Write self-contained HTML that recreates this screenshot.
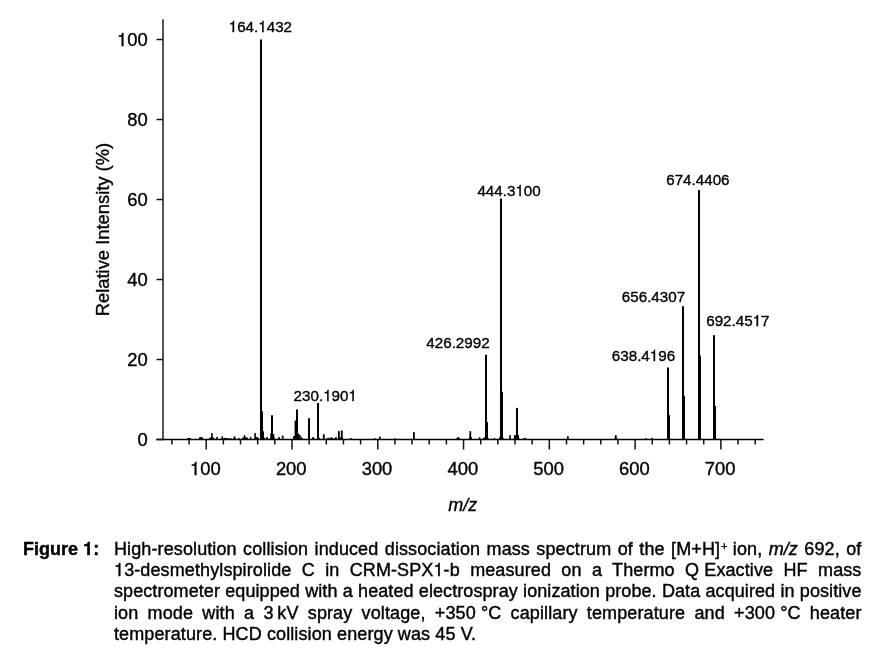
<!DOCTYPE html>
<html><head><meta charset="utf-8"><style>
html,body{margin:0;padding:0;background:#fff;}
body{width:889px;height:657px;position:relative;overflow:hidden;filter:grayscale(1);-webkit-text-stroke:0.4px #000;font-family:"Liberation Sans",Arial,sans-serif;color:#000;}
.fig{position:absolute;left:23.1px;top:538.8px;font-weight:bold;font-size:18px;line-height:21.3px;}
.cap{position:absolute;left:114px;top:538.8px;width:747.5px;font-size:18px;line-height:21.3px;letter-spacing:0.11px;}
.cap div{text-align:justify;text-align-last:justify;white-space:nowrap;}
.nb{display:inline-block;}
.one{font-family:"TeX Gyre Heros","FreeSans","Liberation Sans",Arial,sans-serif;}
span.one{line-height:0;}
.cap div.last{text-align:left;text-align-last:left;word-spacing:0px;}
</style></head><body>
<svg width="889" height="530" viewBox="0 0 889 530" style="position:absolute;left:0;top:0">
<g fill="#000" shape-rendering="auto"><rect x="187.20" y="438.10" width="3.60" height="1.40"/><rect x="199.30" y="437.20" width="3.40" height="2.30"/><rect x="211.10" y="433.10" width="1.60" height="6.40"/><rect x="216.25" y="436.90" width="1.50" height="2.60"/><rect x="221.55" y="436.30" width="1.50" height="3.20"/><rect x="223.50" y="438.00" width="4.00" height="1.50"/><rect x="233.70" y="436.30" width="1.60" height="3.20"/><rect x="238.05" y="438.00" width="1.50" height="1.50"/><rect x="243.70" y="435.10" width="1.60" height="4.40"/><rect x="245.50" y="437.50" width="2.00" height="2.00"/><rect x="249.85" y="436.90" width="1.50" height="2.60"/><rect x="254.30" y="433.10" width="1.60" height="6.40"/><rect x="256.65" y="437.00" width="1.50" height="2.50"/><rect x="260.00" y="39.50" width="2.00" height="400.00"/><rect x="262.00" y="411.40" width="1.00" height="28.10"/><rect x="263.00" y="431.20" width="1.00" height="8.30"/><rect x="266.20" y="437.00" width="1.60" height="2.50"/><rect x="271.00" y="415.30" width="2.00" height="24.20"/><rect x="270.30" y="433.50" width="1.20" height="6.00"/><rect x="273.00" y="434.00" width="1.20" height="5.50"/><rect x="278.20" y="437.00" width="1.60" height="2.50"/><rect x="281.90" y="435.60" width="1.60" height="3.90"/><rect x="296.00" y="409.50" width="2.00" height="30.00"/><rect x="294.60" y="420.50" width="1.60" height="19.00"/><rect x="293.20" y="436.00" width="1.60" height="3.50"/><rect x="297.90" y="433.60" width="1.40" height="5.90"/><rect x="299.10" y="435.00" width="1.40" height="4.50"/><rect x="300.30" y="436.60" width="1.40" height="2.90"/><rect x="301.60" y="437.80" width="1.20" height="1.70"/><rect x="308.00" y="418.20" width="2.00" height="21.30"/><rect x="312.40" y="437.00" width="1.60" height="2.50"/><rect x="317.00" y="403.10" width="2.00" height="36.40"/><rect x="322.90" y="434.20" width="1.80" height="5.30"/><rect x="327.25" y="437.80" width="2.50" height="1.70"/><rect x="330.75" y="437.20" width="1.50" height="2.30"/><rect x="335.25" y="437.00" width="1.50" height="2.50"/><rect x="338.00" y="431.10" width="1.80" height="8.40"/><rect x="340.90" y="430.40" width="1.80" height="9.10"/><rect x="350.00" y="438.00" width="1.60" height="1.50"/><rect x="374.20" y="438.30" width="1.60" height="1.20"/><rect x="379.00" y="436.50" width="1.60" height="3.00"/><rect x="394.20" y="438.30" width="1.60" height="1.20"/><rect x="413.00" y="432.20" width="1.80" height="7.30"/><rect x="457.60" y="437.00" width="1.60" height="2.50"/><rect x="469.40" y="431.20" width="1.80" height="8.30"/><rect x="478.80" y="437.30" width="1.60" height="2.20"/><rect x="483.30" y="437.50" width="1.60" height="2.00"/><rect x="485.00" y="354.80" width="2.00" height="84.70"/><rect x="487.00" y="422.00" width="1.00" height="17.50"/><rect x="493.60" y="438.00" width="1.60" height="1.50"/><rect x="499.00" y="437.40" width="1.60" height="2.10"/><rect x="500.00" y="198.60" width="2.00" height="240.90"/><rect x="502.00" y="391.90" width="1.00" height="47.60"/><rect x="509.20" y="435.20" width="1.60" height="4.30"/><rect x="514.20" y="435.00" width="1.60" height="4.50"/><rect x="517.50" y="435.00" width="1.40" height="4.50"/><rect x="516.00" y="407.90" width="2.00" height="31.60"/><rect x="524.10" y="437.80" width="1.60" height="1.70"/><rect x="567.10" y="436.10" width="1.60" height="3.40"/><rect x="615.00" y="435.10" width="1.60" height="4.40"/><rect x="645.00" y="438.20" width="1.60" height="1.30"/><rect x="651.30" y="437.80" width="1.60" height="1.70"/><rect x="667.00" y="367.50" width="2.00" height="72.00"/><rect x="669.00" y="415.10" width="1.00" height="24.40"/><rect x="682.00" y="306.20" width="2.00" height="133.30"/><rect x="684.00" y="395.80" width="1.00" height="43.70"/><rect x="698.00" y="190.00" width="2.00" height="249.50"/><rect x="700.00" y="355.60" width="1.00" height="83.90"/><rect x="713.00" y="335.20" width="2.00" height="104.30"/><rect x="715.00" y="405.90" width="1.00" height="33.60"/><path d="M186.8,439.6 L187.6,438.1 L190.4,438.1 L191.2,439.6Z M198.6,439.6 L199.4,437.4 L202.4,437.4 L203.2,439.6Z M208.8,439.6 L209.6,437.6 L213.8,437.6 L214.6,439.6Z M219.8,439.6 L220.6,438.4 L231.7,438.4 L232.5,439.6Z M232.8,439.6 L233.6,437.9 L235.6,437.9 L236.4,439.6Z M241.6,439.6 L242.4,437.6 L247.2,437.6 L248.0,439.6Z M254.6,439.6 L255.4,437.3 L258.0,437.3 L258.8,439.6Z M259.6,439.6 L260.4,437.4 L264.7,437.4 L265.5,439.6Z M269.8,439.6 L270.6,436.8 L274.2,436.8 L275.0,439.6Z M292.8,439.6 L293.6,436.4 L295.2,436.4 L296.0,439.6Z M311.5,439.6 L312.3,438.2 L314.2,438.2 L315.0,439.6Z M317.0,439.6 L317.8,437.6 L319.4,437.6 L320.2,439.6Z M326.0,439.6 L326.8,438.5 L335.7,438.5 L336.5,439.6Z M337.5,439.6 L338.3,437.5 L342.7,437.5 L343.5,439.6Z M455.5,439.6 L456.3,438.2 L459.7,438.2 L460.5,439.6Z M468.6,439.6 L469.4,437.0 L471.4,437.0 L472.2,439.6Z M483.0,439.6 L483.8,438.2 L488.7,438.2 L489.5,439.6Z M498.5,439.6 L499.3,437.6 L503.2,437.6 L504.0,439.6Z M508.8,439.6 L509.6,437.8 L510.4,437.8 L511.2,439.6Z M513.6,439.6 L514.4,436.2 L518.8,436.2 L519.6,439.6Z M522.5,439.6 L523.3,438.6 L526.2,438.6 L527.0,439.6Z M614.0,439.6 L614.8,437.6 L616.8,437.6 L617.6,439.6Z"/></g>
<line x1="163" y1="19.3" x2="163" y2="440.2" stroke="#2a2a2a" stroke-width="1.6"/><line x1="156.3" y1="439.5" x2="763.6" y2="439.5" stroke="#000" stroke-width="1.5"/><line x1="156.5" y1="439.5" x2="163" y2="439.5" stroke="#111" stroke-width="1.5"/><line x1="156.5" y1="359.5" x2="163" y2="359.5" stroke="#111" stroke-width="1.5"/><line x1="156.5" y1="279.5" x2="163" y2="279.5" stroke="#111" stroke-width="1.5"/><line x1="156.5" y1="199.5" x2="163" y2="199.5" stroke="#111" stroke-width="1.5"/><line x1="156.5" y1="119.5" x2="163" y2="119.5" stroke="#111" stroke-width="1.5"/><line x1="156.5" y1="39.5" x2="163" y2="39.5" stroke="#111" stroke-width="1.5"/><line x1="171.89" y1="439.5" x2="171.89" y2="444.5" stroke="#111" stroke-width="1.5"/><line x1="189.04" y1="439.5" x2="189.04" y2="444.5" stroke="#111" stroke-width="1.5"/><line x1="206.20" y1="439.5" x2="206.20" y2="449.5" stroke="#111" stroke-width="1.5"/><line x1="223.36" y1="439.5" x2="223.36" y2="444.5" stroke="#111" stroke-width="1.5"/><line x1="240.51" y1="439.5" x2="240.51" y2="444.5" stroke="#111" stroke-width="1.5"/><line x1="257.67" y1="439.5" x2="257.67" y2="444.5" stroke="#111" stroke-width="1.5"/><line x1="274.82" y1="439.5" x2="274.82" y2="444.5" stroke="#111" stroke-width="1.5"/><line x1="291.98" y1="439.5" x2="291.98" y2="449.5" stroke="#111" stroke-width="1.5"/><line x1="309.14" y1="439.5" x2="309.14" y2="444.5" stroke="#111" stroke-width="1.5"/><line x1="326.29" y1="439.5" x2="326.29" y2="444.5" stroke="#111" stroke-width="1.5"/><line x1="343.45" y1="439.5" x2="343.45" y2="444.5" stroke="#111" stroke-width="1.5"/><line x1="360.60" y1="439.5" x2="360.60" y2="444.5" stroke="#111" stroke-width="1.5"/><line x1="377.76" y1="439.5" x2="377.76" y2="449.5" stroke="#111" stroke-width="1.5"/><line x1="394.92" y1="439.5" x2="394.92" y2="444.5" stroke="#111" stroke-width="1.5"/><line x1="412.07" y1="439.5" x2="412.07" y2="444.5" stroke="#111" stroke-width="1.5"/><line x1="429.23" y1="439.5" x2="429.23" y2="444.5" stroke="#111" stroke-width="1.5"/><line x1="446.38" y1="439.5" x2="446.38" y2="444.5" stroke="#111" stroke-width="1.5"/><line x1="463.54" y1="439.5" x2="463.54" y2="449.5" stroke="#111" stroke-width="1.5"/><line x1="480.70" y1="439.5" x2="480.70" y2="444.5" stroke="#111" stroke-width="1.5"/><line x1="497.85" y1="439.5" x2="497.85" y2="444.5" stroke="#111" stroke-width="1.5"/><line x1="515.01" y1="439.5" x2="515.01" y2="444.5" stroke="#111" stroke-width="1.5"/><line x1="532.16" y1="439.5" x2="532.16" y2="444.5" stroke="#111" stroke-width="1.5"/><line x1="549.32" y1="439.5" x2="549.32" y2="449.5" stroke="#111" stroke-width="1.5"/><line x1="566.48" y1="439.5" x2="566.48" y2="444.5" stroke="#111" stroke-width="1.5"/><line x1="583.63" y1="439.5" x2="583.63" y2="444.5" stroke="#111" stroke-width="1.5"/><line x1="600.79" y1="439.5" x2="600.79" y2="444.5" stroke="#111" stroke-width="1.5"/><line x1="617.94" y1="439.5" x2="617.94" y2="444.5" stroke="#111" stroke-width="1.5"/><line x1="635.10" y1="439.5" x2="635.10" y2="449.5" stroke="#111" stroke-width="1.5"/><line x1="652.26" y1="439.5" x2="652.26" y2="444.5" stroke="#111" stroke-width="1.5"/><line x1="669.41" y1="439.5" x2="669.41" y2="444.5" stroke="#111" stroke-width="1.5"/><line x1="686.57" y1="439.5" x2="686.57" y2="444.5" stroke="#111" stroke-width="1.5"/><line x1="703.72" y1="439.5" x2="703.72" y2="444.5" stroke="#111" stroke-width="1.5"/><line x1="720.88" y1="439.5" x2="720.88" y2="449.5" stroke="#111" stroke-width="1.5"/><line x1="738.04" y1="439.5" x2="738.04" y2="444.5" stroke="#111" stroke-width="1.5"/><line x1="755.19" y1="439.5" x2="755.19" y2="444.5" stroke="#111" stroke-width="1.5"/>
<g font-family="Liberation Sans, Arial, sans-serif" font-size="18.4" fill="#000" stroke="#000" stroke-width="0.35"><text x="147.8" y="446.1" text-anchor="end">0</text><text x="147.8" y="366.1" text-anchor="end">20</text><text x="147.8" y="286.1" text-anchor="end">40</text><text x="147.8" y="206.1" text-anchor="end">60</text><text x="147.8" y="126.1" text-anchor="end">80</text><text x="147.8" y="46.1" text-anchor="end"><tspan class="one">1</tspan>00</text><text x="205.45" y="474.8" text-anchor="middle"><tspan class="one">1</tspan>00</text><text x="291.23" y="474.8" text-anchor="middle">200</text><text x="377.01" y="474.8" text-anchor="middle">300</text><text x="462.79" y="474.8" text-anchor="middle">400</text><text x="548.57" y="474.8" text-anchor="middle">500</text><text x="634.35" y="474.8" text-anchor="middle">600</text><text x="720.13" y="474.8" text-anchor="middle">700</text></g>
<g font-family="Liberation Sans, Arial, sans-serif" font-size="15.2" fill="#000" stroke="#000" stroke-width="0.35"><text x="228.7" y="31.8"><tspan class="one">1</tspan>64.<tspan class="one">1</tspan>432</text><text x="293.6" y="401.0">230.<tspan class="one">1</tspan>90<tspan class="one">1</tspan></text><text x="426.3" y="347.7">426.2992</text><text x="477.4" y="195.9">444.3<tspan class="one">1</tspan>00</text><text x="666.2" y="184.8">674.4406</text><text x="621.8" y="301.7">656.4307</text><text x="706.2" y="325.7">692.45<tspan class="one">1</tspan>7</text><text x="611.8" y="360.7">638.4<tspan class="one">1</tspan>96</text></g>
<text transform="translate(109,316.2) rotate(-90)" font-family="Liberation Sans, Arial, sans-serif" font-size="18.35" fill="#000" stroke="#000" stroke-width="0.35">Relative Intensity (%)</text>
<text x="448.2" y="510.6" font-family="Liberation Sans, Arial, sans-serif" font-size="18" font-style="italic" fill="#000" stroke="#000" stroke-width="0.35">m/z</text>
</svg>
<div class="fig">Figure <span class="one">1</span>:</div>
<div class="cap">
<div>High-resolution collision induced dissociation mass spectrum of the [M+H]<sup style="font-size:10.5px;vertical-align:0;position:relative;top:-5.3px;left:1.2px;line-height:0">+</sup> ion, <i>m/z</i> 692, of</div>
<div><span class="one">1</span>3-desmethylspirolide C in CRM-SPX<span class="one">1</span>-b measured on a Thermo <span class="nb">Q&nbsp;Exactive</span> HF mass</div>
<div style="letter-spacing:0.08px">spectrometer equipped with a heated electrospray ionization probe. Data acquired in positive</div>
<div>ion mode with a <span class="nb">3&#8201;kV</span> spray voltage, <span class="nb">+350&nbsp;°C</span> capillary temperature and <span class="nb">+300&nbsp;°C</span> heater</div>
<div class="last">temperature. HCD collision energy was 45 V.</div>
</div>
</body></html>
